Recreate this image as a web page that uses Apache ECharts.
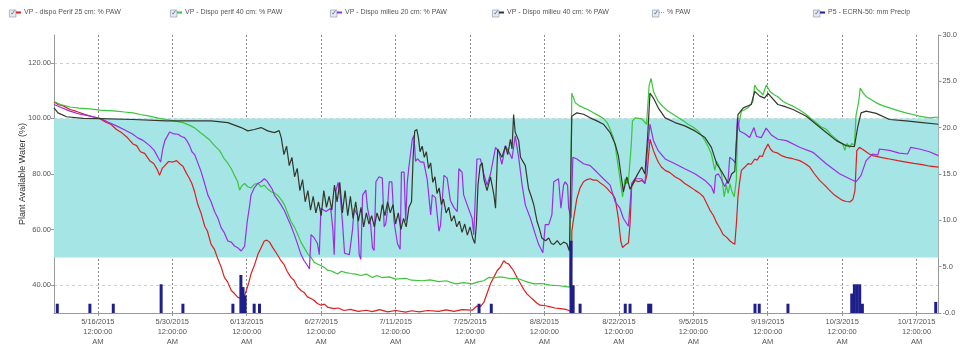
<!DOCTYPE html>
<html><head><meta charset="utf-8">
<script src="https://cdn.jsdelivr.net/npm/echarts@6/dist/echarts.min.js"></script>
<style>html,body{margin:0;padding:0;background:#fff}#c{width:960px;height:347px}</style>
</head><body><div id="c"></div>
<script>
// ---------- DATA (x = days since 2015-05-07 00:00) ----------
const seriesNames = ['VP - dispo Perif 25 cm: % PAW','VP - Dispo perif 40 cm: % PAW','VP - Dispo milieu 20 cm: % PAW','VP - Dispo milieu 40 cm: % PAW','% PAW','P5 - ECRN-50: mm Precip'];
const tickDates = ['5/16/2015','5/30/2015','6/13/2015','6/27/2015','7/11/2015','7/25/2015','8/8/2015','8/22/2015','9/5/2015','9/19/2015','10/3/2015','10/17/2015'];
const xRangeDays = [0.75, 167.1];
const leftTicks = [40,60,80,100,120];
const leftRange = [30,130];
const rightRange = [0,30];
const pawBand = [50,100];

const red = [[0.75,106],[1.5,105],[2.5,104.5],[3.75,103.2],[5,102.5],[6.5,101.5],[8,100.6],[9.4,99.9],[10.5,98.6],[11.5,97.8],[12.5,96],[13.5,94.8],[14.5,93.2],[15.6,90.8],[16.3,90.2],[17,88],[17.8,87.4],[18.75,84.8],[19.5,83.8],[20.2,81.5],[20.6,79.5],[21.1,82],[21.6,83],[22.3,84.5],[23.1,84.3],[23.8,84.8],[24.5,83.5],[25,82.8],[25.6,80.5],[26.25,78.3],[26.7,76.5],[27.2,73.6],[27.8,69],[28.4,66],[29.1,61.2],[29.6,59.5],[30.3,54.7],[30.9,53],[31.6,49.3],[32.2,46.5],[32.8,42.8],[33.4,41.2],[34.1,38.1],[34.7,37],[35.3,35.7],[35.8,35.2],[36.3,34.6],[36.9,38],[37.4,41],[37.8,44],[38.5,47.5],[39.1,51.1],[39.7,53.5],[40.3,55.9],[40.8,56.2],[41.3,55.5],[41.9,53.5],[42.6,51.5],[43.45,48.8],[44,47.5],[44.6,45],[45.3,42.8],[45.9,41.8],[46.5,39.5],[47.2,38.1],[47.8,37.4],[48.4,35.8],[49.1,35.2],[49.7,34.5],[50.3,33.4],[51,32.8],[51.6,33.2],[52.3,32],[53.45,31.6],[54.2,31.8],[55.3,30.9],[56.5,31.3],[58,30.6],[59.5,31],[60.6,30.5],[62,31.2],[63.5,30.4],[65,30.9],[66.9,30.3],[68,30.8],[69.5,30.4],[71,30.9],[73.1,30.6],[74.5,31.1],[76,30.6],[77.5,31.2],[79.4,31],[80.3,32.5],[81,32.4],[81.6,33.8],[82.2,37],[82.85,40.5],[83.5,43],[84.1,45.2],[84.7,46.5],[85.35,48.8],[85.8,48],[86.3,47.6],[86.7,46.5],[87.2,45.2],[87.9,42.5],[88.5,40.5],[89.1,38.5],[89.7,36.9],[90.3,35.8],[91,34.6],[91.6,33.5],[92.2,32.8],[93.2,32.6],[94.1,32.2],[95,31.8],[96,31.6],[97,31.3],[97.5,31],[98,30.5],[98.15,59.4],[98.5,64.1],[99.1,71.2],[99.7,75],[100.35,77.2],[101,78],[101.6,78.3],[102.2,77.8],[102.85,77.8],[103.5,76.8],[104.1,76],[104.7,75],[105.35,73.6],[105.9,72.5],[106.3,71.2],[106.9,64.1],[107.35,55.9],[107.7,53.5],[108.2,54.5],[108.8,55.3],[109.1,62],[109.4,75.4],[110.05,77.7],[110.7,77.2],[111.3,77.7],[111.9,76.6],[112.3,80],[112.55,86],[112.85,92.5],[113.5,88.4],[114,86],[114.4,84.3],[115,82.5],[115.7,81.3],[116.6,80.5],[117.55,79],[118.5,78],[119.4,76.6],[120.3,75.5],[121.3,74.2],[122.1,73.2],[122.9,71.8],[123.5,69.5],[124.1,67.1],[124.8,65],[125.4,62.4],[126,60.5],[126.6,58.2],[127.3,57.2],[127.9,55.9],[128.4,55.2],[128.8,54.7],[129.1,62],[129.4,71.8],[129.7,77],[130.05,81.3],[130.7,82.5],[131.3,83.7],[131.9,83.5],[132.55,85.4],[133,85],[133.5,86.5],[134,86.3],[134.4,88.4],[135.05,90.8],[135.5,89],[136,88],[136.9,87.5],[137.7,86.5],[138.5,86],[139.7,85.5],[141,84.8],[142,83.8],[142.9,82.5],[143.8,80],[144.75,77.7],[145.7,76],[146.6,74.2],[147.5,72.5],[148.5,71.2],[149.1,70.5],[149.75,70.1],[150.5,70],[151,70.8],[151.4,74],[151.75,88.4],[152.25,89.6],[152.9,88.8],[153.5,88],[154.1,87.2],[154.75,86.6],[156.3,86],[157.9,85.4],[159.5,84.8],[161,84.3],[162.5,83.8],[164.1,83.4],[165.5,82.8],[167.1,82.5]];

const green = [[0.75,106.1],[2,105],[3.75,104.1],[5.5,103.7],[7.5,103.4],[9.4,103],[11,102.8],[12.5,102.6],[14,102.3],[15.6,102],[17,101.4],[18.75,100.8],[20.3,100.1],[21.9,99.6],[23.5,99],[25,98.5],[26.3,97.5],[27.2,96.6],[28.2,95],[29.1,93.7],[30,92.3],[30.95,90.2],[31.9,88.4],[32.8,85.4],[33.5,83.7],[34.1,81.9],[34.7,79.5],[35.3,77.2],[35.65,74.2],[36.1,75.8],[36.6,76.6],[37.2,75.4],[37.8,75],[38.4,76.3],[39.1,76.6],[39.7,75.4],[40.3,76],[41,74.5],[41.6,73.6],[42.2,73.2],[42.8,72.4],[43.5,70.8],[44.1,68.9],[44.7,66],[45.3,63],[46,60.8],[46.6,58.2],[47.2,55.5],[47.8,53.5],[48.5,51.2],[49.1,50],[49.7,48.2],[50.3,47.6],[51,47],[51.6,46.4],[52.2,45.4],[52.8,45.2],[53.5,44.6],[54.1,44],[54.8,45],[55.5,44.6],[56.5,44.2],[57.5,44],[58.5,43.5],[59.5,44],[60.65,42.8],[61.5,43.5],[62.5,42.7],[63.8,43],[65,42.2],[66.9,42.5],[68,41.8],[70,41.6],[71.5,41.9],[73.15,41.3],[74.5,41.6],[76.3,40.5],[77.8,40.9],[79.4,40.5],[80.5,41.2],[81.6,41.6],[82.5,42.8],[83.5,42.6],[84.5,43],[85.35,42.8],[86.5,42.4],[87.85,42.5],[89.4,41.4],[91,40.5],[92.5,40.6],[94.1,40],[95.8,39.8],[97.7,39.3],[98,39.5],[98.15,109.1],[98.8,105.6],[99.5,104.6],[100.35,103.8],[101.3,103],[102.2,102],[103.2,101],[104.1,100],[104.8,98.5],[105.35,96.1],[105.9,93.5],[106.3,90.2],[106.8,83.7],[107.2,78.3],[107.7,71.8],[108.15,78.3],[108.5,76.5],[108.8,77.7],[109.3,89.6],[109.55,99],[110.05,100.2],[111.3,99.8],[112.2,97.9],[112.7,112],[113.05,114.4],[113.5,109.7],[114.4,106.1],[115.3,104.2],[116.3,102.6],[117.2,101.5],[118.2,100.2],[119.1,99.2],[120,97.9],[121,96.8],[121.9,95.5],[122.6,93.8],[123.2,92],[123.8,89.8],[124.4,87.2],[125.05,81.3],[125.4,84.5],[125.7,83.5],[126.3,80],[126.8,71.8],[127.2,76],[127.55,73],[127.9,76.5],[128.2,74],[128.7,71.8],[129.1,78],[129.3,95.5],[130.05,102.6],[130.7,103.2],[131.3,103.8],[132.2,106],[132.55,112],[133,110.5],[133.5,109.7],[134.1,108.5],[134.75,112],[135.4,109.7],[136.2,108.5],[136.9,107.8],[137.9,106.1],[138.8,105.2],[139.75,104.4],[141,103],[142.25,101.4],[143.2,99.8],[144.1,98.5],[145,97],[146,96.1],[147,94],[147.9,92.5],[148.5,91.5],[149.1,90.8],[149.5,88.5],[149.9,91],[150.4,89.5],[150.8,91],[151.3,90.2],[151.6,101],[152.1,106],[152.4,110.9],[153,109],[153.5,107.9],[154.5,106.7],[155.4,105.6],[156.6,104.6],[157.9,103.8],[159.5,102.8],[161,102],[162.3,101.4],[163.5,100.8],[165.4,100.2],[167.1,100.5]];

const purple = [[0.75,105],[2,104],[3.75,102.6],[5.5,101.6],[7.5,100.8],[9.4,100],[11,98.6],[12.5,97.3],[14,95.9],[15.6,94.3],[16.5,93],[17.4,92.2],[18.75,90.2],[19.6,88.5],[20.3,86],[20.8,84.3],[21.2,89],[21.6,92],[22.5,95.1],[23.3,94.4],[24.1,94.3],[24.7,93.5],[25.3,93.1],[25.8,91.8],[26.25,90.2],[26.7,88],[27.2,87],[27.8,84],[28.45,80.7],[29.1,76.5],[29.7,72.4],[30.3,70],[30.95,66.5],[31.6,64],[32.2,60.6],[32.8,58.8],[33.45,55.9],[34.1,55.5],[34.7,54.1],[35.3,53.5],[35.95,52.3],[36.6,54],[37.1,63],[37.5,68],[37.8,72.4],[38.4,75],[39.1,76.6],[39.7,77.2],[40.3,78.3],[40.8,77.5],[41.3,76],[41.8,74.5],[42.2,72.4],[42.8,70.8],[43.45,68.9],[44.1,66.8],[44.7,64.1],[45.3,61.5],[45.95,58.2],[46.6,54.6],[47.2,51.1],[47.8,48.8],[48.45,47],[48.8,45.8],[49.1,58.2],[49.7,57],[50.3,55],[50.65,51],[50.95,67.7],[51.9,66.5],[52.8,67.7],[53.2,60],[53.45,51],[53.75,73.7],[54.2,77],[54.6,72],[55,62.9],[55.4,51.5],[56.3,51],[56.9,60],[57.2,67.7],[57.85,65],[58.15,51],[58.45,49.3],[58.8,72.4],[59.4,74.2],[59.7,68],[60.3,62],[60.65,53.5],[60.95,52.5],[61.3,77.2],[61.9,79],[62.5,78.5],[62.85,61],[63.15,62],[63.45,66.6],[63.8,77.2],[64.3,77.2],[64.7,63],[65.35,55],[65.85,52.9],[66.1,80.7],[66.6,80.7],[66.9,63],[67.2,77],[67.5,82.5],[67.8,82],[68.15,92.5],[68.45,93.9],[68.75,84.5],[69.1,85.5],[69.7,84.3],[70.3,84.3],[70.95,78],[71.6,65.3],[71.9,72.5],[72.5,71.5],[73.15,59.4],[73.45,61.5],[74.1,79.5],[74.7,78.5],[75.3,70.5],[75.95,68],[76.6,66.5],[76.9,81.9],[77.5,80.7],[77.8,72.5],[78.45,69],[79.4,64],[79.7,58.2],[80,58.2],[80.3,85.4],[80.95,85.4],[81.6,80],[82.2,76],[82.85,80],[83.8,89.6],[84.4,88],[85,83.5],[85.65,90.2],[86.3,88],[86.9,85.5],[87.5,93.7],[88.15,86],[88.8,76],[89.4,68.9],[90.35,64.1],[91.3,58.2],[91.9,54.7],[92.7,51.7],[93.15,61.8],[93.8,61.8],[94.4,65.3],[94.75,77.2],[95.65,78.3],[96.1,67.7],[96.6,76],[96.9,77.2],[97.35,76],[97.55,67.7],[98,64.1],[98.35,86],[99.1,85.4],[100.35,83.7],[101.6,83],[102.85,80.7],[104.1,78.3],[105.35,76],[106.3,70],[107.2,67.7],[107.85,64],[108.8,61.2],[109.4,76.6],[110.05,78.3],[111.3,78.3],[111.9,76.6],[112.4,89.6],[112.85,97.9],[113.5,92],[114.4,88.4],[115.7,85.4],[117.55,83.7],[119.4,81.9],[121.3,80.1],[123.2,77.7],[124.4,75.4],[124.9,73],[125.2,79.5],[125.7,80.1],[126.3,78],[126.9,75.5],[127.55,78],[127.85,86],[128.5,85],[128.9,84],[129.3,100.2],[129.7,95.5],[130.7,94.5],[131.6,93.1],[132.4,96.7],[132.9,93.5],[133.8,93.1],[134.7,96.5],[135.7,94],[136.9,92.5],[138.5,92],[141,89.6],[143.5,87.8],[146,83.7],[148.5,80.1],[150.4,78.3],[151.6,77.2],[152.55,79.5],[153.5,84.8],[154.75,87.2],[155.7,86.8],[156,89],[157.9,88.5],[159.75,87.5],[161.3,87.2],[161.9,89.6],[163.5,89],[165.4,88],[167.1,86.6]];

const dark = [[0.75,103.8],[1.5,102],[3.1,100.6],[6.25,100],[9.4,99.9],[15.6,99.6],[21.9,99.1],[27.2,99.1],[30.3,99.1],[33.45,98.5],[35.95,96.7],[37.2,95.5],[38.45,96],[39.7,96.7],[40.95,95.5],[42.2,94.9],[43.1,95.6],[43.5,93],[44,87],[44.5,90],[45,83],[45.5,86],[46,79],[46.5,82],[47,74],[47.5,78],[48,70],[48.5,74],[49,67],[49.5,72],[50,66],[50.5,70],[51,65],[51.5,74],[52,68],[52.5,72],[53,67],[53.5,76],[54,70],[54.5,77],[55,66],[55.5,74],[56,65],[56.5,72],[57,64],[57.5,70],[58,63],[58.5,68],[59,61],[59.5,66],[60,62],[60.5,65],[61,61],[61.5,66],[62,63],[62.5,69],[63,65],[63.5,70],[64,66],[64.5,69],[65,62],[65.5,66],[66,60],[66.5,64],[67,61],[67.5,68],[68,70],[68.3,86],[68.6,95.5],[69,96],[69.3,93],[69.6,88],[70,90],[70.4,86],[70.8,88],[71.2,82],[71.6,84],[72,77],[72.4,79],[72.8,73],[73.2,75],[73.6,69],[74,71],[74.5,66],[75,68],[75.5,63],[76,65],[76.5,61],[77,63],[77.5,59],[78,62],[78.5,58],[79,61],[79.5,57],[79.9,55],[80.2,62],[80.5,76],[80.9,83],[81.3,84],[81.6,78.3],[82.2,74],[82.85,79],[83.5,72.4],[83.8,67.7],[84.2,89],[85,86],[85.65,90],[86.1,87],[86.6,92.5],[86.9,89],[87.2,101.4],[87.5,95],[88.15,92],[88.5,86],[88.8,85.4],[89.4,83],[90,74.8],[90.5,72],[91,68.9],[91.6,63],[92.1,60],[92.5,57],[93.2,56],[93.8,57],[94.3,55],[94.75,54.7],[95.4,56],[96,54.5],[96.6,55.5],[97.2,55],[97.7,52.3],[98,52],[98.15,100.8],[99.1,102],[100.35,101.5],[101.6,100.2],[102.85,99.1],[104.1,97.9],[105.35,94.9],[106.3,90.8],[106.9,86.6],[107.5,78.3],[107.85,73.6],[108.5,79],[109.1,74.5],[109.75,77],[110.4,79.5],[111.3,82.5],[111.9,80],[112.4,93.1],[112.85,109.1],[113.5,107.3],[114.4,103.8],[115.7,100.2],[117.55,98.5],[119.4,97.3],[121.3,95.5],[123.2,93.1],[124.4,89.6],[125.4,83.7],[126.3,81],[126.9,79],[127.55,76.6],[128.2,80],[128.8,81],[129.4,101.4],[130.4,103.8],[131.9,105],[132.55,109.7],[133.5,108],[134.4,107.3],[135.05,109],[136.9,105],[138,104.4],[139.75,103.2],[142.25,100.8],[144.1,97.9],[146,94.9],[147.9,92],[149.75,90.2],[151.3,89.8],[151.9,96.7],[152.55,102],[153.5,102.6],[155.4,101.8],[157.9,99.6],[161,99.1],[164.1,98.5],[167.1,97.9]];

const precip = [[1.37,1.0],[7.5,1.0],[11.9,1.0],[20.9,3.1],[25,1.0],[34.4,1.0],[35.9,4.1],[36.3,2.8],[36.7,1.9],[38.4,1.0],[39.4,1.0],[80.7,1.0],[83,1.0],[98.0,7.8],[98.4,3.0],[99.7,1.0],[108.2,1.0],[109.1,1.0],[112.6,1.0],[113.0,1.0],[132.6,1.0],[133.4,1.0],[138.8,1.0],[150.8,2.1],[151.3,3.1],[151.8,3.1],[152.3,3.1],[152.8,1.0],[166.6,1.2]];

// ---------- BUILD ----------
const BASE = new Date(2015, 4, 7).getTime();
const DAY = 86400000;
const ts = d => BASE + d * DAY;
const toSeries = arr => arr.map(p => [ts(p[0]), p[1]]);
const tickTs = tickDates.map(s => { const [m, d, y] = s.split('/').map(Number); return new Date(y, m - 1, d).getTime(); });
const FONT = 'Liberation Sans, Arial, sans-serif';
const colors = ['#dc1f1f', '#3cc43c', '#9a2ee6', '#34372c', '#9a9a9a', '#1f1f8c'];

const cbX = [9, 170, 330, 492, 652, 813];
const legends = seriesNames.map((n, i) => ({
  left: cbX[i] + 7, top: 9, data: [n], selectedMode: false,
  icon: i === 4 ? 'path://M0,0h1v1h-1zM2,0h1v1h-1zM4,0h1v1h-1z' : 'rect',
  itemWidth: 5, itemHeight: i === 4 ? 1.5 : 2, padding: 0,
  textStyle: { fontSize: 7, color: '#555', fontFamily: FONT, padding: [0, 0, 0, -2] }
}));
const checkboxes = cbX.map(x => ({
  type: 'group', left: x, top: 9.5, children: [
    { type: 'rect', shape: { x: 0, y: 0, width: 6.5, height: 7 }, style: { fill: '#e6eaf2', stroke: '#9ca6ba', lineWidth: 0.8 } },
    { type: 'text', x: 0.8, y: -0.5, style: { text: '\u2713', fontSize: 7, fill: '#5a6a90', fontFamily: 'DejaVu Sans' } }
  ]
}));

const lineSeries = [red, green, purple, dark].map((arr, i) => ({
  name: seriesNames[i], type: 'line', data: toSeries(arr), showSymbol: false, symbol: 'none',
  lineStyle: { width: 1.2, color: colors[i] }, itemStyle: { color: colors[i] }, z: 3 + i
}));

const option = {
  animation: false,
  legend: legends,
  graphic: checkboxes,
  grid: { left: 54, right: 19, top: 35, bottom: 29 },
  xAxis: {
    type: 'value', min: ts(xRangeDays[0]), max: ts(xRangeDays[1]),
    axisLine: { show: true, lineStyle: { color: '#999' } },
    axisTick: { show: true, customValues: tickTs, length: 3, lineStyle: { color: '#999' } },
    axisLabel: {
      customValues: tickTs, hideOverlap: false, fontSize: 7.5, lineHeight: 10, color: '#555', fontFamily: FONT, margin: 4,
      formatter: v => { const d = new Date(v); return (d.getMonth() + 1) + '/' + d.getDate() + '/' + d.getFullYear() + '\n12:00:00\nAM'; }
    },
    splitLine: { show: true, lineStyle: { type: [2, 2], color: '#8a8a8a', width: 1 } }
  },
  yAxis: [{
    type: 'value', min: leftRange[0], max: leftRange[1], position: 'left',
    name: 'Plant Available Water (%)', nameLocation: 'middle', nameGap: 27, nameMoveOverlap: false,
    nameTextStyle: { fontSize: 9, color: '#333', fontFamily: FONT },
    axisLine: { show: true, lineStyle: { color: '#999' } },
    axisTick: { show: true, customValues: leftTicks, length: 3, lineStyle: { color: '#999' } },
    axisLabel: { customValues: leftTicks, fontSize: 7.5, color: '#555', fontFamily: FONT, formatter: v => v.toFixed(2), margin: 3 },
    splitLine: { show: true, lineStyle: { type: [3, 3], color: '#cfcfcf' } }
  }, {
    type: 'value', min: rightRange[0], max: rightRange[1], interval: 5, position: 'right',
    axisLine: { show: true, lineStyle: { color: '#999' } },
    axisTick: { show: true, length: 3, lineStyle: { color: '#999' } },
    axisLabel: { fontSize: 7.5, color: '#555', fontFamily: FONT, margin: 4, formatter: v => v === 0 ? '-0.0' : v.toFixed(1) },
    splitLine: { show: false }
  }],
  series: [
    ...lineSeries,
    {
      name: seriesNames[4], type: 'line', data: [], showSymbol: false,
      lineStyle: { color: colors[4], type: 'dotted' }, itemStyle: { color: colors[4] }, z: 2,
      markArea: { silent: true, itemStyle: { color: '#a6e5e6' }, data: [[{ yAxis: pawBand[0] }, { yAxis: pawBand[1] }]] }
    },
    {
      name: seriesNames[5], type: 'bar', yAxisIndex: 1, data: toSeries(precip), barWidth: 3,
      itemStyle: { color: colors[5] }, z: 8
    }
  ]
};
const chart = echarts.init(document.getElementById('c'), null, { renderer: 'canvas' });
chart.setOption(option);
</script>
</body></html>
